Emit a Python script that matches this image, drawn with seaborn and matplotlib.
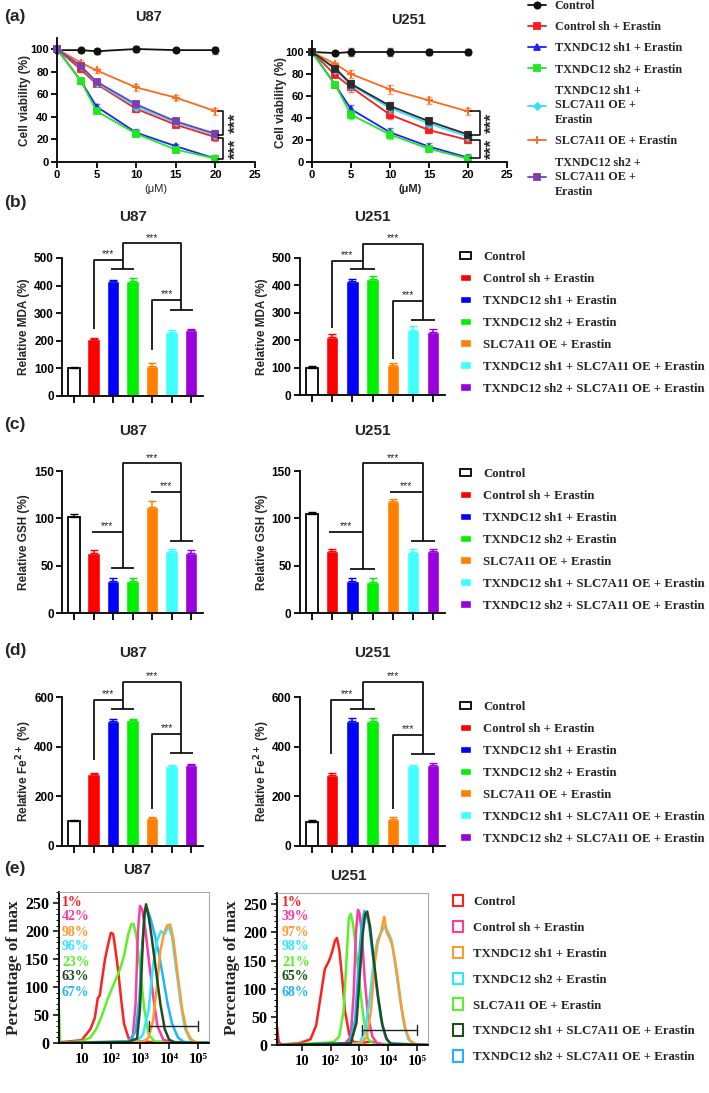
import numpy as np
import pandas as pd
import matplotlib
matplotlib.use('Agg')
import matplotlib.pyplot as plt
from matplotlib.patches import Patch
from matplotlib.font_manager import FontProperties
from matplotlib.ticker import MultipleLocator, LogLocator, NullFormatter
import seaborn as sns

W, H = 709, 1093

# ---------------- (a) cell viability ----------------
conc = [0, 3, 5, 10, 15, 20]
line_labels = ['Control', 'Control sh + Erastin', 'TXNDC12 sh1 + Erastin',
               'TXNDC12 sh2 + Erastin', 'TXNDC12 sh1 +\nSLC7A11 OE +\nErastin',
               'SLC7A11 OE + Erastin', 'TXNDC12 sh2 +\nSLC7A11 OE +\nErastin']
line_colors = ['#111111', '#ff1a1a', '#1f1fff', '#22e622', '#33e0ff', '#ff6a1a', '#7b3fb0']
line_colors_u251 = ['#111111', '#ff1a1a', '#1f1fff', '#22e622', '#33e0ff', '#ff6a1a', '#2a2a2a']
line_markers = ['o', 's', '^', 's', 'D', '+', 's']
line_msize = [4.5, 5, 5, 5, 3.5, 6, 5]

viab_u87 = [
    [99, 99, 98, 100, 99, 99],
    [100, 82, 69, 47, 33, 22],
    [100, 72, 49, 26, 14, 3],
    [100, 72, 45, 25, 11, 3],
    [100, 85, 70, 49, 35, 24],
    [100, 88, 81, 66, 57, 45],
    [100, 85, 71, 51, 36, 25],
]
viab_u87_err = [1, 2, 2, 3, 2, 3]
viab_u251 = [
    [100, 99, 100, 100, 100, 100],
    [100, 79, 68, 43, 29, 20],
    [100, 70, 48, 27, 14, 4],
    [100, 70, 43, 25, 12, 3],
    [100, 84, 70, 49, 35, 23],
    [100, 89, 80, 66, 56, 46],
    [100, 85, 71, 51, 37, 25],
]
viab_u251_err = [2, 2, 4, 4, 3, 3]

# ---------------- (b)-(d) bar charts ----------------
bar_groups = ['Control', 'Control sh + Erastin', 'TXNDC12 sh1 + Erastin',
              'TXNDC12 sh2 + Erastin', 'SLC7A11 OE + Erastin',
              'TXNDC12 sh1 + SLC7A11 OE + Erastin', 'TXNDC12 sh2 + SLC7A11 OE + Erastin']
bar_colors = ['#ffffff', '#ff0000', '#0000ff', '#00f000', '#ff8000', '#40ffff', '#9900dd']

mda_u87 = [100, 205, 415, 418, 110, 233, 238]
mda_u87_err = [4, 6, 6, 10, 8, 6, 4]
mda_u251 = [100, 213, 416, 425, 108, 237, 230]
mda_u251_err = [5, 8, 6, 8, 8, 14, 10]
gsh_u87 = [101, 63, 34, 34, 112, 65, 63]
gsh_u87_err = [4, 4, 3, 3, 6, 3, 4]
gsh_u251 = [105, 66, 34, 33, 118, 64, 66]
gsh_u251_err = [2, 2, 3, 4, 2, 4, 2]
fe_u87 = [100, 290, 505, 508, 112, 322, 325]
fe_u87_err = [3, 5, 7, 5, 3, 3, 4]
fe_u251 = [97, 285, 505, 505, 110, 322, 325]
fe_u251_err = [6, 10, 10, 10, 8, 5, 10]

# ---------------- (e) flow histograms (log10 intensity, % of max) ----------------
hist_colors = ['#ff2020', '#ff3aa0', '#ff9a2e', '#2ee8ff', '#5cf02a', '#1f4f1f', '#21b5ff']
hist_u87 = {
    'Control': ([0.2, 1.0, 1.3, 1.45, 1.55, 1.62, 1.7, 1.8, 1.9, 2.0, 2.08, 2.15, 2.25, 2.35, 2.45, 2.6, 2.8, 3.2, 5.4],
                [1, 5, 25, 45, 80, 85, 115, 150, 175, 197, 195, 170, 130, 80, 35, 10, 3, 2, 0]),
    'Control sh + Erastin': ([0.2, 2.5, 2.75, 2.85, 2.93, 3.0, 3.08, 3.18, 3.3, 3.45, 3.6, 3.8, 4.1, 5.4],
                             [0, 1, 10, 70, 200, 245, 238, 205, 150, 85, 30, 6, 1, 0]),
    'TXNDC12 sh1 + Erastin': ([0.2, 3.1, 3.3, 3.45, 3.58, 3.7, 3.82, 3.93, 4.04, 4.15, 4.3, 4.45, 4.6, 4.75, 4.9, 5.1, 5.4],
                              [0, 2, 10, 40, 100, 165, 195, 210, 212, 185, 120, 60, 22, 7, 2, 0, 0]),
    'TXNDC12 sh2 + Erastin': ([0.2, 2.9, 3.1, 3.3, 3.45, 3.6, 3.72, 3.85, 3.98, 4.1, 4.25, 4.4, 4.55, 4.7, 4.9, 5.4],
                              [0, 3, 15, 60, 140, 185, 200, 195, 210, 190, 130, 70, 25, 8, 1, 0]),
    'SLC7A11 OE + Erastin': ([0.22, 0.25, 0.4, 1.0, 1.3, 1.5, 1.7, 1.9, 2.1, 2.3, 2.45, 2.6, 2.7, 2.78, 2.88, 3.0, 3.15, 3.3, 3.5, 5.4],
                             [60, 3, 1, 3, 10, 25, 50, 80, 105, 130, 155, 195, 212, 213, 190, 135, 60, 15, 3, 0]),
    'TXNDC12 sh1 + SLC7A11 OE + Erastin': ([0.2, 2.6, 2.9, 3.0, 3.08, 3.15, 3.21, 3.3, 3.4, 3.55, 3.7, 3.85, 4.0, 4.2, 5.4],
                                           [0, 2, 8, 60, 160, 230, 248, 225, 190, 130, 70, 25, 6, 1, 0]),
    'TXNDC12 sh2 + SLC7A11 OE + Erastin': ([0.2, 2.6, 2.85, 2.98, 3.08, 3.18, 3.25, 3.35, 3.5, 3.65, 3.8, 3.95, 4.1, 4.3, 4.5, 5.4],
                                           [0, 3, 20, 80, 180, 235, 240, 225, 195, 160, 115, 70, 35, 10, 2, 0]),
}
hist_u251 = {
    'Control': ([0.14, 0.2, 0.3, 0.9, 1.3, 1.5, 1.65, 1.8, 1.95, 2.05, 2.15, 2.22, 2.3, 2.4, 2.5, 2.65, 2.8, 3.1, 3.4, 3.8, 5.4],
                [32, 5, 1, 3, 10, 35, 85, 135, 150, 165, 185, 190, 170, 120, 60, 18, 5, 4, 6, 1, 0]),
    'Control sh + Erastin': ([0.14, 2.5, 2.7, 2.8, 2.88, 2.95, 3.0, 3.08, 3.18, 3.3, 3.45, 3.6, 3.9, 5.4],
                             [0, 2, 15, 90, 200, 240, 235, 200, 120, 50, 15, 4, 0, 0]),
    'TXNDC12 sh1 + Erastin': ([0.14, 3.05, 3.25, 3.4, 3.52, 3.63, 3.75, 3.86, 3.95, 4.05, 4.15, 4.3, 4.45, 4.6, 4.75, 4.95, 5.4],
                              [0, 2, 15, 60, 140, 180, 200, 228, 200, 190, 175, 130, 70, 28, 8, 1, 0]),
    'TXNDC12 sh2 + Erastin': ([0.14, 3.0, 3.2, 3.35, 3.5, 3.62, 3.75, 3.87, 4.0, 4.12, 4.25, 4.4, 4.55, 4.7, 4.9, 5.4],
                              [0, 3, 25, 80, 150, 185, 200, 210, 200, 185, 140, 85, 35, 10, 2, 0]),
    'SLC7A11 OE + Erastin': ([0.14, 1.0, 1.8, 2.1, 2.3, 2.45, 2.55, 2.63, 2.7, 2.78, 2.88, 3.0, 3.15, 3.3, 3.5, 5.4],
                             [0, 2, 4, 5, 15, 60, 150, 225, 233, 215, 170, 110, 45, 10, 2, 0]),
    'TXNDC12 sh1 + SLC7A11 OE + Erastin': ([0.14, 2.7, 2.9, 3.02, 3.12, 3.2, 3.27, 3.37, 3.5, 3.65, 3.8, 3.95, 4.1, 5.4],
                                           [0, 3, 40, 130, 200, 232, 237, 210, 150, 85, 35, 10, 2, 0]),
    'TXNDC12 sh2 + SLC7A11 OE + Erastin': ([0.14, 2.65, 2.85, 2.98, 3.08, 3.17, 3.24, 3.33, 3.45, 3.6, 3.75, 3.9, 4.05, 5.4],
                                           [0, 3, 45, 150, 215, 238, 235, 215, 165, 100, 45, 15, 3, 0]),
}
hist_order = [0, 4, 1, 6, 3, 2, 5]
pct_u87 = ['1%', '42%', '98%', '96%', '23%', '63%', '67%']
pct_u251 = ['1%', '39%', '97%', '98%', '21%', '65%', '68%']

# ---------------- style ----------------
sns.set_style('ticks')
plt.rcParams['font.family'] = ['Liberation Sans', 'DejaVu Sans']
plt.rcParams['font.weight'] = 'bold'
plt.rcParams['axes.labelweight'] = 'bold'
plt.rcParams['axes.linewidth'] = 1.3
plt.rcParams['xtick.major.width'] = 1.3
plt.rcParams['ytick.major.width'] = 1.3
plt.rcParams['xtick.major.size'] = 4
plt.rcParams['ytick.major.size'] = 4
plt.rcParams['xtick.color'] = 'black'
plt.rcParams['ytick.color'] = 'black'
plt.rcParams['axes.edgecolor'] = 'black'
plt.rcParams['mathtext.default'] = 'bf'

SERIF = ['Liberation Serif', 'DejaVu Serif']
leg_fp_a = FontProperties(family=SERIF, weight='bold', size=8.7)
leg_fp = FontProperties(family=SERIF, weight='bold', size=9.2)

fig = plt.figure(figsize=(W / 100, H / 100), dpi=100)


def px_rect(l, r, t, b):
    return [l / W, 1 - b / H, (r - l) / W, (b - t) / H]


def ftext(x, y, s, **kw):
    fig.text(x / W, 1 - y / H, s, **kw)


def ylabel_at(x, y, s, **kw):
    ftext(x, y, s, rotation=90, ha='center', va='center', **kw)


def prism(ax):
    sns.despine(ax=ax)
    ax.tick_params(labelsize=8, pad=2)


# ---------------- (a) ----------------
def viability(ax, series, err, colors, brk_x, star_x, spans):
    handles = []
    for vals, lab, c, m, ms in zip(series, line_labels, colors, line_markers, line_msize):
        sns.lineplot(x=conc, y=vals, ax=ax, color=c, marker=m, markersize=ms,
                     markeredgecolor=c, markeredgewidth=1.3, lw=1.3, label=lab,
                     legend=False, clip_on=False)
        handles.append(ax.lines[-1])
        ax.errorbar(conc, vals, yerr=err, fmt='none', ecolor=c, elinewidth=0.8,
                    capsize=2, alpha=0.6, clip_on=False)
    ax.set_xlim(0, 25)
    ax.set_ylim(0, 110)
    ax.set_xticks([0, 5, 10, 15, 20, 25])
    ax.set_yticks([0, 20, 40, 60, 80, 100])
    ax.set_xlabel('')
    ax.set_ylabel('')
    prism(ax)
    for top, bot in spans:
        ax.plot([20.3, brk_x, brk_x, 20.3], [top, top, bot, bot], color='k', lw=1.1, clip_on=False)
        ax.text(star_x, (top + bot) / 2, '***', rotation=90, ha='center', va='center',
                fontsize=12.5, fontweight='bold', clip_on=False)
    return handles


ax = fig.add_axes(px_rect(57, 255, 37.7, 162))
handles_a = viability(ax, viab_u87, viab_u87_err, line_colors, 21.0, 22.6, [(45, 24), (21, 3)])
ax = fig.add_axes(px_rect(312, 507, 41, 162))
viability(ax, viab_u251, viab_u251_err, line_colors_u251, 21.5, 23.1, [(46, 25), (20, 4)])

ftext(148, 17, 'U87', ha='center', va='center', fontsize=10.5)
ftext(408, 20, 'U251', ha='center', va='center', fontsize=10.5)
ylabel_at(25, 100, 'Cell viability (%)', fontsize=8.5)
ylabel_at(281, 102, 'Cell viability (%)', fontsize=8.5)
ftext(156, 189, '(μM)', ha='center', va='center', fontsize=8, fontweight='normal')
ftext(410, 189, '(μM)', ha='center', va='center', fontsize=8)

leg = fig.legend(handles_a, line_labels, loc='upper left', bbox_to_anchor=(528 / W, 1 - 0 / H),
                 frameon=False, prop=leg_fp_a, handlelength=1.5, handletextpad=0.7,
                 labelspacing=0.76, borderpad=0, borderaxespad=0)
for t in leg.get_texts():
    t.set_linespacing(1.3)


# ---------------- (b)-(d) ----------------
def bars(ax, vals, errs, ylim, yticks):
    df = pd.DataFrame({'group': bar_groups, 'value': vals})
    sns.barplot(data=df, x='group', y='value', hue='group', order=bar_groups,
                hue_order=bar_groups, palette=bar_colors, saturation=1, width=0.62,
                errorbar=None, legend=False, ax=ax)
    handles = [cont.patches[0] for cont in ax.containers]
    handles[0].set_edgecolor('black')
    handles[0].set_linewidth(1.3)
    for i, (v, e) in enumerate(zip(vals, errs)):
        ec = 'black' if i == 0 else bar_colors[i]
        ax.errorbar(i, v, yerr=[[0], [e]], fmt='none', ecolor=ec, elinewidth=1.1, capsize=3)
    ax.set_xlim(-0.6, 6.6)
    ax.set_ylim(*ylim)
    ax.set_yticks(yticks)
    ax.set_xticks(range(7))
    ax.set_xticklabels([])
    ax.set_xlabel('')
    ax.set_ylabel('')
    prism(ax)
    ax.tick_params(axis='y', labelsize=8.5)
    ax.tick_params(axis='x', length=5)
    return handles


def sig(ax, s):
    k = dict(color='k', lw=1.2, clip_on=False, solid_capstyle='butt')
    ax.plot([1.9, 3.1], [s['t1']] * 2, **k)
    ax.plot([4.9, 6.1], [s['t2']] * 2, **k)
    ax.plot([2.5, 2.5, 5.5, 5.5], [s['t1'], s['top'], s['top'], s['t2']], **k)
    ax.plot([s['lx'], s['lx'], 2.5], [s['lend'], s['left'], s['left']], **k)
    ax.plot([s['rx'], s['rx'], 5.5], [s['rend'], s['right'], s['right']], **k)
    span = ax.get_ylim()[1]
    for x, y in [(4.0, s['top']), ((s['lx'] + 2.5) / 2, s['left']), ((s['rx'] + 5.5) / 2, s['right'])]:
        ax.text(x, y + span * 0.005, '***', ha='center', va='bottom', fontsize=7.5,
                fontweight='normal', clip_on=False)


mda_sig_u87 = dict(top=553, t1=461, t2=312, left=493, lend=242, lx=1, right=348, rend=167, rx=4)
mda_sig_u251 = dict(top=552, t1=460, t2=274, left=490, lend=245, lx=1, right=344, rend=131, rx=4)
gsh_sig_u87 = dict(top=158, t1=47.5, t2=76, left=85.5, lend=85.5, lx=0.9, right=128, rend=128, rx=3.95)
gsh_sig_u251 = dict(top=158, t1=46.5, t2=76, left=85.5, lend=85.5, lx=0.85, right=128, rend=128, rx=3.85)
fe_sig_u87 = dict(top=660, t1=552, t2=375, left=588, lend=347, lx=1, right=451, rend=150, rx=4)
fe_sig_u251 = dict(top=660, t1=552, t2=372, left=588, lend=372, lx=0.95, right=448, rend=148, rx=4)

rows = [
    (258, 396, 395, mda_u87, mda_u87_err, mda_u251, mda_u251_err, (0, 500), range(0, 501, 100),
     'Relative MDA (%)', mda_sig_u87, mda_sig_u251, 217, 203, 'b', 251),
    (471, 613, 613, gsh_u87, gsh_u87_err, gsh_u251, gsh_u251_err, (0, 150), [0, 50, 100, 150],
     'Relative GSH (%)', gsh_sig_u87, gsh_sig_u251, 431, 424, 'c', 468),
    (697, 846, 846, fe_u87, fe_u87_err, fe_u251, fe_u251_err, (0, 600), [0, 200, 400, 600],
     'Relative Fe$^{2+}$ (%)', fe_sig_u87, fe_sig_u251, 653, 650, 'd', 701),
]
for (top, b1, b2, v1, e1, v2, e2, ylim, yt, ylab, s1, s2, ty, ly, tag, legy) in rows:
    ax = fig.add_axes(px_rect(62.3, 202.7, top, b1))
    hb = bars(ax, v1, e1, ylim, yt)
    sig(ax, s1)
    ax = fig.add_axes(px_rect(299.9, 445.3, top, b2))
    bars(ax, v2, e2, ylim, yt)
    sig(ax, s2)
    ftext(133, ty, 'U87', ha='center', va='center', fontsize=11)
    ftext(372, ty, 'U251', ha='center', va='center', fontsize=11)
    ylabel_at(24, (top + b1) / 2, ylab, fontsize=8.5)
    ylabel_at(262, (top + b2) / 2, ylab, fontsize=8.5)
    ftext(4, ly, '(%s)' % tag, ha='left', va='center', fontsize=12.5)
    fig.legend(hb, bar_groups, loc='upper left', bbox_to_anchor=(460 / W, 1 - legy / H),
               frameon=False, prop=leg_fp, handlelength=0.85, handleheight=0.55,
               handletextpad=0.95, labelspacing=0.78, borderpad=0, borderaxespad=0)

ftext(4, 17, '(a)', ha='left', va='center', fontsize=12.5)


# ---------------- (e) ----------------
ytick_fp = FontProperties(family=SERIF, weight='bold', size=11.5)
xtick_fp = FontProperties(family=SERIF, weight='bold', size=10.5)
pct_fp = FontProperties(family=SERIF, weight='bold', size=10)


def flow(ax, curves, xlim, pcts, gate, pct_x):
    ax.set_xscale('log')
    names = list(curves.keys())
    for i in hist_order:
        lx, ly = curves[names[i]]
        sns.lineplot(x=np.power(10.0, lx), y=ly, sort=False, color=hist_colors[i],
                     lw=1.8, ax=ax)
    g0, g1, gy = gate
    ax.plot([g0, g1], [gy, gy], color='#222222', lw=1)
    ax.plot([g0, g0], [gy - 9, gy + 9], color='#222222', lw=1)
    ax.plot([g1, g1], [gy - 9, gy + 9], color='#222222', lw=1)
    ax.set_xlim(*xlim)
    ax.set_ylim(0, 270)
    ax.set_yticks([0, 50, 100, 150, 200, 250])
    ax.yaxis.set_minor_locator(MultipleLocator(10))
    ax.set_xticks([10, 1e2, 1e3, 1e4, 1e5])
    ax.set_xticklabels(['10', '10²', '10³', '10⁴', '10⁵'])
    ax.xaxis.set_minor_locator(LogLocator(base=10, subs=np.arange(2, 10)))
    ax.xaxis.set_minor_formatter(NullFormatter())
    ax.set_xlabel('')
    ax.set_ylabel('')
    for side in ['top', 'right']:
        ax.spines[side].set_color('#aaaaaa')
        ax.spines[side].set_linewidth(0.8)
    ax.tick_params(which='major', length=4, width=1.1, pad=3)
    ax.tick_params(which='minor', length=2, width=0.7)
    for lab in ax.get_xticklabels():
        lab.set_fontproperties(xtick_fp)
    for lab in ax.get_yticklabels():
        lab.set_fontproperties(ytick_fp)
    for k, (p, c) in enumerate(zip(pcts, hist_colors)):
        ftext(pct_x, 902 + k * 15, p, ha='left', va='center', color=c, fontproperties=pct_fp)


ax = fig.add_axes(px_rect(59, 209, 892, 1043))
flow(ax, hist_u87, (10 ** 0.22, 10 ** 5.37), pct_u87, (10 ** 3.3, 1e5, 30), 62)
ax = fig.add_axes(px_rect(277, 428, 893, 1045))
flow(ax, hist_u251, (10 ** 0.14, 10 ** 5.38), pct_u251, (10 ** 3.1, 1e5, 26), 282)

ftext(137, 870, 'U87', ha='center', va='center', fontsize=11)
ftext(348, 876, 'U251', ha='center', va='center', fontsize=11)
ylabel_fp = FontProperties(family=SERIF, weight='bold', size=12.3)
ylabel_at(14, 968, 'Percentage of max', fontproperties=ylabel_fp)
ylabel_at(232, 968, 'Percentage of max', fontproperties=ylabel_fp)
ftext(4, 869, '(e)', ha='left', va='center', fontsize=12.5)

flow_handles = [Patch(facecolor='none', edgecolor=c, lw=1.5) for c in hist_colors]
fig.legend(flow_handles, bar_groups, loc='upper left', bbox_to_anchor=(453 / W, 1 - 895 / H),
           frameon=False, prop=leg_fp, handlelength=0.8, handleheight=1.0,
           handletextpad=0.8, labelspacing=1.0, borderpad=0, borderaxespad=0)

fig.savefig('out.png', dpi=100)
